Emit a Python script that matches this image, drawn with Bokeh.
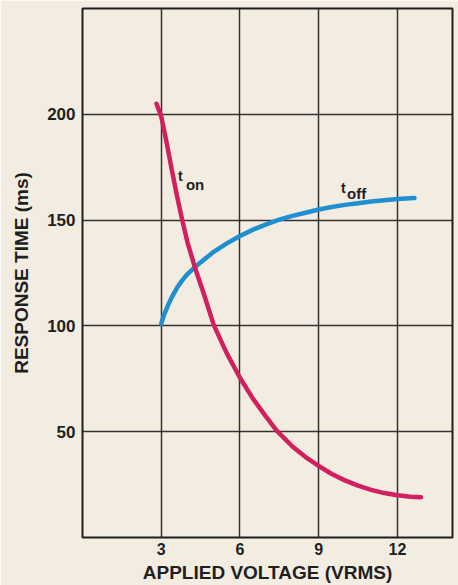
from bokeh.plotting import figure
from bokeh.models import FixedTicker, Range1d
from bokeh.core.properties import value
from bokeh.embed import file_html
from bokeh.resources import INLINE

# t_on curve
ton_x = [2.82, 3.0, 3.2, 3.4, 3.6, 3.8, 4.0, 4.3, 4.6, 5.0, 5.5, 6.0, 6.5, 7.0,
         7.4, 8.0, 8.5, 9.0, 9.5, 10.0, 10.5, 11.0, 11.5, 12.0, 12.5, 12.9]
ton_y = [205, 199, 187, 174, 161.5, 150, 139.5, 127, 116, 100.5, 87, 75.5, 65.5, 57,
         50.5, 43, 38, 33.8, 30, 27, 24.5, 22.5, 21, 20, 19.3, 19]

# t_off curve
toff_x = [3.0, 3.1, 3.25, 3.4, 3.6, 3.8, 4.0, 4.3, 4.6, 5.0, 5.5, 6.0, 6.5, 7.0,
          7.5, 8.0, 8.5, 9.0, 9.5, 10.0, 10.5, 11.0, 11.5, 12.0, 12.65]
toff_y = [101, 105, 109.5, 113.5, 118, 121.5, 124.5, 128, 131, 135, 139, 142.5, 145.5, 148,
          150.2, 152, 153.5, 155, 156.2, 157.2, 158, 158.8, 159.4, 160, 160.4]

x_ticks = [3, 6, 9, 12]
y_ticks = [50, 100, 150, 200]

BG = "#f2ece1"
INK = "#1f1f1f"
FONT = "Liberation Sans"

p = figure(width=458, height=585, output_backend="svg", toolbar_location=None,
           x_range=Range1d(0, 14.1), y_range=Range1d(0, 250),
           min_border_left=82, min_border_right=6, min_border_top=8, min_border_bottom=0)
p.background_fill_color = BG
p.border_fill_color = BG
p.outline_line_color = INK
p.outline_line_width = 2

for ax in (p.xaxis[0], p.yaxis[0]):
    ax.axis_line_color = None
    ax.major_tick_line_color = None
    ax.minor_tick_line_color = None
    ax.major_tick_out = 0
    ax.major_tick_in = 0
    ax.major_label_text_font = FONT
    ax.major_label_text_font_style = "bold"
    ax.major_label_text_color = INK
    ax.axis_label_text_font = FONT
    ax.axis_label_text_font_style = "bold"
    ax.axis_label_text_color = INK
    ax.axis_label_text_font_size = "19px"

p.xaxis.ticker = FixedTicker(ticks=x_ticks)
p.yaxis.ticker = FixedTicker(ticks=y_ticks)
p.xaxis.major_label_text_font_size = "16px"
p.yaxis.major_label_text_font_size = "17px"
p.xaxis.major_label_standoff = 5
p.yaxis.major_label_standoff = 7
p.xaxis.axis_label = "APPLIED VOLTAGE (VRMS)"
p.yaxis.axis_label = "RESPONSE TIME (ms)"
p.xaxis.axis_label_standoff = 4
p.yaxis.axis_label_standoff = 12

p.xgrid.ticker = FixedTicker(ticks=x_ticks)
p.ygrid.ticker = FixedTicker(ticks=y_ticks)
for g in (p.xgrid[0], p.ygrid[0]):
    g.grid_line_color = INK
    g.grid_line_width = 1.5
    g.grid_line_alpha = 0.9

p.line(toff_x, toff_y, line_color="#1f8fd2", line_width=4.5, line_cap="round")
p.line(ton_x, ton_y, line_color="#d11f5f", line_width=4.5, line_cap="round")

lab = dict(text_font=value(FONT), text_font_style="bold", text_color=INK,
           text_baseline="alphabetic", text_align="left")
p.text(x=[3.64], y=[170.8], text=["t"], text_font_size="14px", **lab)
p.text(x=[3.94], y=[167.0], text=["on"], text_font_size="15px", **lab)
p.text(x=[9.85], y=[165.1], text=["t"], text_font_size="14px", **lab)
p.text(x=[10.08], y=[162.7], text=["off"], text_font_size="15px", **lab)

open("out.html", "w").write(file_html(p, INLINE))
